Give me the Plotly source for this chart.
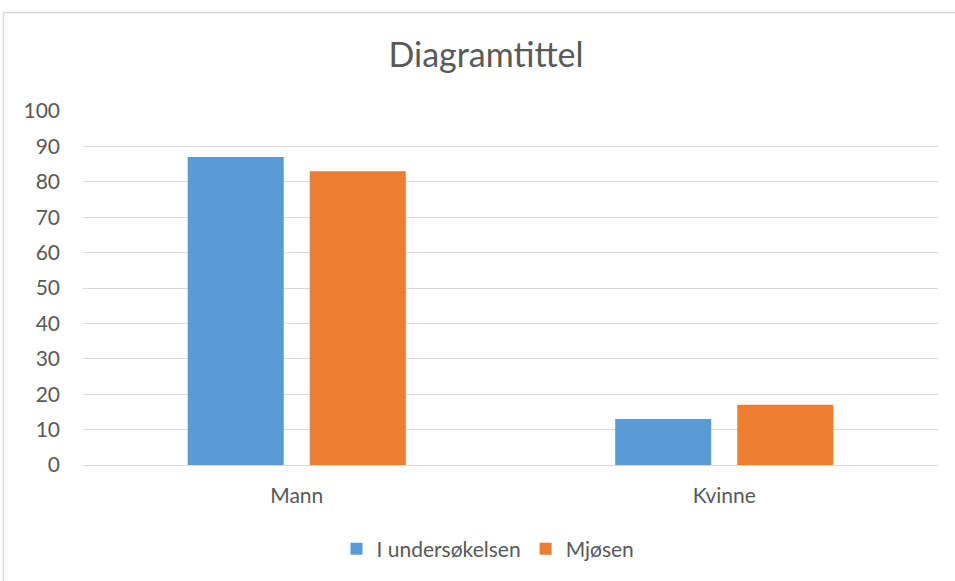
import plotly.graph_objects as go

categories = ["Mann", "Kvinne"]
series_names = ["I undersøkelsen", "Mjøsen"]
values_undersokelsen = [87, 13]
values_mjosen = [83, 17]
y_ticks = [0, 10, 20, 30, 40, 50, 60, 70, 80, 90, 100]

W, H = 955, 581
L, R, T, B = 83, 17, 111, 116
pw, ph = W - L - R, H - T - B

def px_x(p):
    return (p - L) / pw

def px_y(p):
    return (H - B - p) / ph

FONT = "Lato"
GREY = "#595959"

fig = go.Figure()
fig.add_trace(go.Bar(x=categories, y=values_undersokelsen, name=series_names[0],
                     marker=dict(color="#5B9BD5", line=dict(width=0))))
fig.add_trace(go.Bar(x=categories, y=values_mjosen, name=series_names[1],
                     marker=dict(color="#ED7D31", line=dict(width=0))))

fig.update_layout(
    width=W, height=H,
    margin=dict(l=L, r=R, t=T, b=B, autoexpand=False),
    paper_bgcolor="white", plot_bgcolor="white",
    barmode="group", bargap=0.429, bargroupgap=0.213,
    font=dict(family=FONT, color=GREY, size=21),
    title=dict(text="Diagramtittel", x=px_x(486), xanchor="center", xref="paper",
               y=1 - 55 / H, yanchor="middle", yref="container",
               font=dict(family=FONT, size=34, color=GREY)),
    showlegend=True,
    legend=dict(orientation="h", x=px_x(488), xanchor="center", y=px_y(549), yanchor="middle",
                font=dict(family=FONT, size=21, color=GREY), traceorder="normal",
                itemwidth=30, bgcolor="rgba(0,0,0,0)"),
    xaxis=dict(showgrid=False, showline=True, linecolor="#d9d9d9", linewidth=1,
               ticks="", ticklabelstandoff=12, tickfont=dict(size=21, color=GREY),
               fixedrange=True),
    yaxis=dict(range=[0, 100], tickvals=y_ticks, showgrid=True, gridcolor="#d9d9d9",
               gridwidth=1, zeroline=False, showline=False, ticks="",
               ticklabelstandoff=22, tickfont=dict(size=21, color=GREY), fixedrange=True),
    shapes=[dict(type="rect", xref="paper", yref="paper",
                 x0=px_x(3.5), x1=px_x(960), y0=px_y(590), y1=px_y(12.5),
                 line=dict(color="#d9d9d9", width=1.5), fillcolor="rgba(0,0,0,0)", layer="below")],
)

fig.write_html("out.html", config={"displayModeBar": False},
               post_script="document.body.style.margin='0';document.body.style.overflow='hidden';")
